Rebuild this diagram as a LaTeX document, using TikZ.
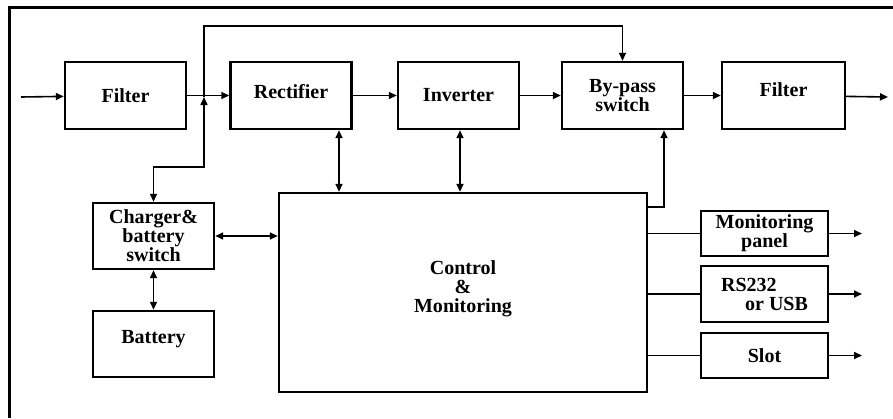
\documentclass[tikz,border=0pt]{standalone}
\usepackage{fontspec}
\setmainfont{Liberation Serif}
\usepackage{tikz}
\usetikzlibrary{positioning,arrows.meta,calc}

\tikzset{
  blk/.style={draw,line width=2.4pt,inner sep=0pt,align=center,
    minimum width=121pt,minimum height=67pt,
    font=\fontsize{20}{19}\selectfont\bfseries},
  conn/.style={line width=1.6pt,-{Triangle[length=8pt,width=7pt]}},
  bconn/.style={line width=1.6pt,{Triangle[length=8pt,width=7pt]}-{Triangle[length=8pt,width=7pt]}},
  plain/.style={line width=1.4pt}
}

\begin{document}
\begin{tikzpicture}[x=1pt,y=-1pt]
\useasboundingbox (0,0) rectangle (893,418);
\draw[line width=3pt] (9,418) -- (9,7) -- (893,7);
% power path
\node[blk] (filterA) at (125.5,95.5) {Filter};
\node[blk] (rect) at (291,95.5) {Rectifier\\[-11pt]};
\node[blk] (inv) at (458.5,95.5) {Inverter};
\node[blk] (bypass) at (622.5,95.5) {By-pass\\switch};
\node[blk,minimum width=123pt] (filterB) at (783.5,95.5) {Filter\\[-8pt]};
% battery side
\node[blk,minimum height=66pt] (charger) at (153.5,236) {Charger\&\\battery\\switch};
\node[blk,minimum height=66pt] (battery) at (153.5,344) {Battery\\[-5pt]};
\node[blk,minimum width=368pt,minimum height=199pt] (control) at (463,292.5) {Control\\\&\\Monitoring\\[-8pt]};
% outputs
\node[blk,minimum width=127pt,minimum height=45pt] (panel) at (764.5,233.5) {Monitoring\\panel};
\node[blk,minimum width=127pt,minimum height=56pt,align=left] (rs) at (764.5,294) {RS232\\\hspace*{24pt}or USB};
\node[blk,minimum width=127pt,minimum height=45pt] (slot) at (764.5,355.5) {Slot};

\coordinate (in) at (21,97);
\coordinate (out) at (888,97);
\coordinate (jn) at (204,97);
\coordinate (top) at (204,26);
\coordinate (dn) at (204,167);
\coordinate (cb) at (664,207);
\coordinate (panelOut) at (862,233.5);
\coordinate (rsOut) at (862,294);
\coordinate (slotOut) at (862,355.5);

\draw[conn] (in) -- (filterA);
\draw[conn] (filterA) -- (rect);
\draw[conn] (rect) -- (inv);
\draw[conn] (inv) -- (bypass);
\draw[conn] (bypass) -- (filterB);
\draw[conn] (filterB) -- (out);
% by-pass line and charger feed
\draw[conn] (jn) -- (top) -- (top -| bypass.north) -- (bypass.north);
\draw[bconn] (jn) -- (dn) -- (dn -| charger.north) -- (charger.north);
% links to control
\draw[bconn] ([xshift=48pt]rect.south) -- ([xshift=48pt]rect.south |- control.north);
\draw[bconn] ([xshift=1.5pt]inv.south) -- ([xshift=1.5pt]inv.south |- control.north);
\draw[conn] (control.east |- cb) -- (cb) -- (cb |- bypass.south);
\draw[bconn] (charger) -- (charger -| control.west);
\draw[bconn] (charger) -- (battery);
\draw[plain] (control.east |- panel) -- (panel);
\draw[plain] (control.east |- rs) -- (rs);
\draw[plain] (control.east |- slot) -- (slot);
\draw[conn] (panel) -- (panelOut);
\draw[conn] (rs) -- (rsOut);
\draw[conn] (slot) -- (slotOut);
\end{tikzpicture}
\end{document}
